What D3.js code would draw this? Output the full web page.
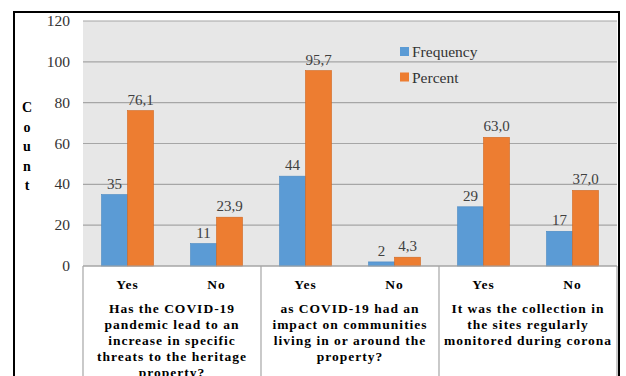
<!DOCTYPE html>
<html><head><meta charset="utf-8">
<script src="https://cdn.jsdelivr.net/npm/d3@7"></script>
<style>body{margin:0;background:#fff;}svg{display:block;}</style>
</head><body><svg id="c" width="626" height="376"></svg>
<script>
const categories = ["Yes","No","Yes","No","Yes","No"];
const frequency = [35, 11, 44, 2, 29, 17];
const percent = [76.1, 23.9, 95.7, 4.3, 63.0, 37.0];
const percentLabels = ["76,1","23,9","95,7","4,3","63,0","37,0"];
const questions = [
  ["Has the COVID-19","pandemic lead to an","increase in specific","threats to the heritage","property?"],
  ["as COVID-19 had an","impact on communities","living in or around the","property?"],
  ["It was the collection in","the sites regularly","monitored during corona"]
];
const yTicks = [0,20,40,60,80,100,120];
const seriesNames = ["Frequency","Percent"];
const colors = ["#5b9bd5","#ed7d31"];

const svg = d3.select("#c");
const L = 83, R = 617, T = 21, B = 266;
const serif = "'Liberation Serif','Times New Roman',serif";

// outer border
svg.append("rect").attr("x",14).attr("y",12).attr("width",605).attr("height",380)
  .attr("fill","none").attr("stroke","#000").attr("stroke-width",2);

const y = d3.scaleLinear().domain([0,120]).range([B,T]);
const x = d3.scaleBand().domain(d3.range(categories.length)).range([L,R]).padding(0);
const xs = d3.scaleBand().domain([0,1]).range([0,52]);

svg.append("rect").attr("x",L).attr("y",T).attr("width",R-L).attr("height",B-T).attr("fill","#e7e7e7");

// gridlines
svg.append("g").selectAll("line").data(yTicks).join("line")
  .attr("x1",L).attr("x2",R).attr("y1",d=>y(d)).attr("y2",d=>y(d))
  .attr("stroke","#a6a6a6").attr("stroke-width",1.2);

// y tick labels
svg.append("g").selectAll("text").data(yTicks).join("text")
  .attr("x",70).attr("y",d=>y(d)+5).attr("text-anchor","end")
  .attr("font-family",serif).attr("font-size",15.5).attr("fill","#333").text(d=>d);

// Count vertical
svg.append("g").selectAll("text").data("Count".split("")).join("text")
  .attr("x",27).attr("y",(d,i)=>112+i*19.5).attr("text-anchor","middle")
  .attr("font-family",serif).attr("font-weight","bold").attr("font-size",14).text(d=>d);

// bars
const series = [frequency, percent];
series.forEach((vals,si)=>{
  svg.append("g").selectAll("rect").data(vals).join("rect")
    .attr("x",(d,i)=>x(i)+x.bandwidth()/2-26+xs(si))
    .attr("width",xs.bandwidth())
    .attr("y",d=>y(d)).attr("height",d=>B-y(d))
    .attr("fill",colors[si]).attr("stroke",si? "#d0661f":"#4a89c2").attr("stroke-width",0.6);
});
// value labels
svg.append("g").selectAll("text").data(frequency).join("text")
  .attr("x",(d,i)=>x(i)+x.bandwidth()/2-26+xs(0)+xs.bandwidth()/2)
  .attr("y",d=>y(d)-6).attr("text-anchor","middle")
  .attr("font-family",serif).attr("font-size",15).attr("fill","#404040").text(d=>d);
svg.append("g").selectAll("text").data(percent).join("text")
  .attr("x",(d,i)=>x(i)+x.bandwidth()/2-26+xs(1)+xs.bandwidth()/2)
  .attr("y",d=>y(d)-6).attr("text-anchor","middle")
  .attr("font-family",serif).attr("font-size",15).attr("fill","#404040").text((d,i)=>percentLabels[i]);

// category table
const tb = svg.append("g");
tb.append("line").attr("x1",L).attr("x2",R).attr("y1",B).attr("y2",B).attr("stroke","#a6a6a6").attr("stroke-width",1.2);
[0,2,4,6].forEach(k=>{
  const xx = k<6 ? x(k) : R;
  tb.append("line").attr("x1",xx).attr("x2",xx).attr("y1",B).attr("y2",376).attr("stroke","#a6a6a6").attr("stroke-width",1.2);
});
tb.selectAll("text.cat").data(categories).join("text").attr("class","cat")
  .attr("x",(d,i)=>x(i)+x.bandwidth()/2).attr("y",289).attr("text-anchor","middle")
  .attr("font-family",serif).attr("font-weight","bold").attr("font-size",13.5).attr("letter-spacing",1).text(d=>d);
questions.forEach((lines,qi)=>{
  const cx = (x(qi*2)+x(qi*2+1)+x.bandwidth())/2;
  tb.append("g").selectAll("text").data(lines).join("text")
    .attr("x",cx).attr("y",(d,i)=>312.5+i*16).attr("text-anchor","middle")
    .attr("font-family",serif).attr("font-weight","bold").attr("font-size",13.5).attr("letter-spacing",1).text(d=>d);
});

// legend
const lg = svg.append("g");
seriesNames.forEach((n,i)=>{
  lg.append("rect").attr("x",400).attr("y",47+i*25.5).attr("width",9).attr("height",9).attr("fill",colors[i]);
  lg.append("text").attr("x",412).attr("y",57+i*25.5).attr("font-family",serif).attr("font-size",15.5).attr("fill","#333").text(n);
});
</script></body></html>
